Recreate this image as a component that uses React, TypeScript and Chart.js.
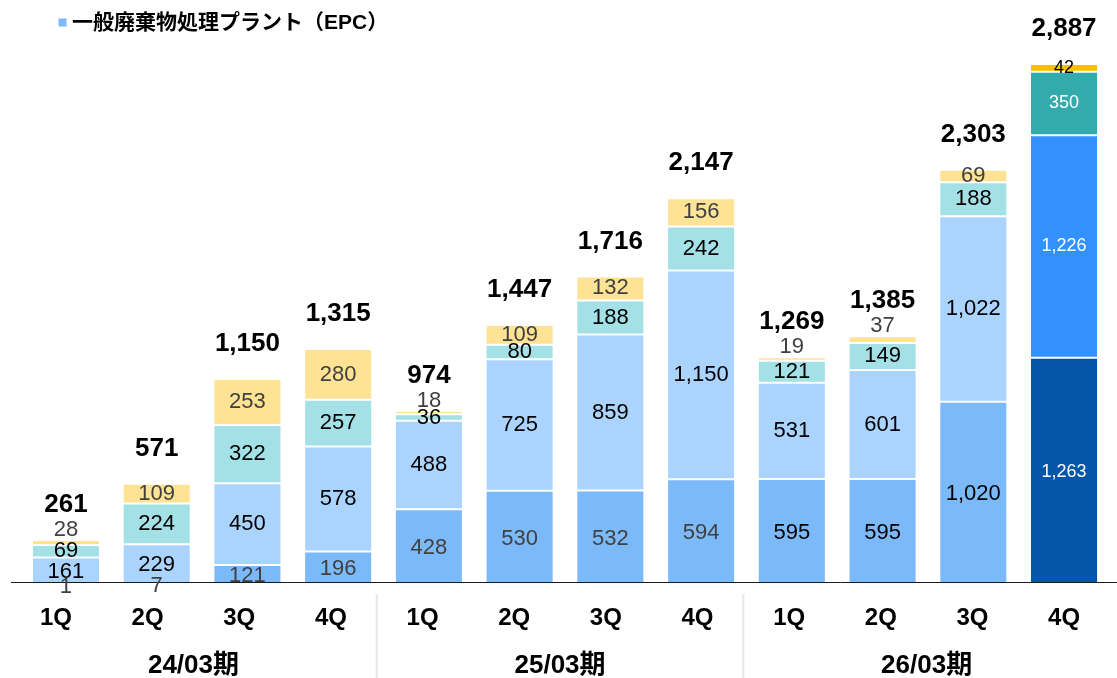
import { useEffect, useRef } from 'react';
import { Chart, registerables } from 'chart.js';

Chart.register(...registerables);

const quarters = ['1Q', '2Q', '3Q', '4Q', '1Q', '2Q', '3Q', '4Q', '1Q', '2Q', '3Q', '4Q'];
const periods = ['24/03期', '25/03期', '26/03期'];
const legendLabel = '一般廃棄物処理プラント（EPC）';

const seg1 = [1, 7, 121, 196, 428, 530, 532, 594, 595, 595, 1020, 1263];
const seg2 = [161, 229, 450, 578, 488, 725, 859, 1150, 531, 601, 1022, 1226];
const seg3 = [69, 224, 322, 257, 36, 80, 188, 242, 121, 149, 188, 350];
const seg4 = [28, 109, 253, 280, 18, 109, 132, 156, 19, 37, 69, 42];
const totals = [261, 571, 1150, 1315, 974, 1447, 1716, 2147, 1269, 1385, 2303, 2887];

const baseColors = ['#7cb9f9', '#aad4fd', '#a3e1e6', '#fee394'];
const lastColors = ['#0555a8', '#3391fe', '#33aaab', '#fcbf00'];

const FONT = "'Liberation Sans', Arial, 'Noto Sans CJK JP', sans-serif";

const Q_MIN = -0.386;
const Q_MAX = 11.494;

const fmt = (v: number) => v.toLocaleString('en-US');

const labelColor = (di: number, i: number, n: number) => {
  if (i === n - 1) return di === 3 ? '#000000' : '#ffffff';
  if (di === 0) return i >= 8 ? '#000000' : '#404040';
  if (di === 3) return '#404040';
  return '#000000';
};

const decorPlugin = {
  id: 'decor',
  afterDatasetsDraw(chart: any) {
    const ctx = chart.ctx;
    const area = chart.chartArea;
    const n = quarters.length;
    ctx.save();
    // baseline
    ctx.strokeStyle = '#1a1a1a';
    ctx.lineWidth = 1;
    ctx.beginPath();
    ctx.moveTo(11, Math.round(area.bottom) + 0.5);
    ctx.lineTo(chart.width, Math.round(area.bottom) + 0.5);
    ctx.stroke();

    ctx.textAlign = 'center';
    ctx.textBaseline = 'middle';
    chart.data.datasets.forEach((ds: any, di: number) => {
      const meta = chart.getDatasetMeta(di);
      meta.data.forEach((bar: any, i: number) => {
        const v = ds.data[i];
        const p = bar.getProps(['x', 'y', 'base'], true);
        const h = p.base - p.y;
        const last = i === n - 1;
        ctx.font = `${last ? 18 : 22}px ${FONT}`;
        ctx.fillStyle = labelColor(di, i, n);
        let ly = (p.y + p.base) / 2;
        if (di === 3 && h < 10 && !last) ly = p.y - 10;
        ctx.fillText(fmt(v), p.x, ly);
      });
    });

    const topMeta = chart.getDatasetMeta(chart.data.datasets.length - 1);
    ctx.font = `bold 26px ${FONT}`;
    ctx.fillStyle = '#000000';
    topMeta.data.forEach((bar: any, i: number) => {
      ctx.fillText(fmt(totals[i]), bar.x, bar.y - 35);
    });
    ctx.restore();
  },
  afterDraw(chart: any) {
    const ctx = chart.ctx;
    const qs = chart.scales.q;
    ctx.save();
    // separators
    ctx.strokeStyle = '#e4e7ec';
    ctx.lineWidth = 2;
    for (let g = 1; g < periods.length; g++) {
      const sx = qs.getPixelForValue(g * 4 - 0.5);
      ctx.beginPath();
      ctx.moveTo(sx, 594);
      ctx.lineTo(sx, chart.height);
      ctx.stroke();
    }
    // group labels
    ctx.font = `bold 26px ${FONT}`;
    ctx.fillStyle = '#000000';
    ctx.textAlign = 'center';
    ctx.textBaseline = 'middle';
    periods.forEach((p, g) => {
      ctx.fillText(p, qs.getPixelForValue(g * 4 + 1.5), 666);
    });
    // legend
    ctx.fillStyle = baseColors[0];
    ctx.fillRect(58.5, 18.5, 8, 8);
    ctx.fillStyle = '#000000';
    ctx.font = `bold 21px ${FONT}`;
    ctx.textAlign = 'left';
    ctx.fillText(legendLabel, 72, 23);
    ctx.restore();
  },
};

export default function App() {
  const ref = useRef<HTMLCanvasElement>(null);
  useEffect(() => {
    if (!ref.current) return;
    const n = quarters.length;
    const series = [seg1, seg2, seg3, seg4];
    const chart = new Chart(ref.current, {
      type: 'bar',
      data: {
        labels: quarters,
        datasets: series.map((data, di) => ({
          label: di === 0 ? legendLabel : `s${di + 1}`,
          data,
          backgroundColor: data.map((_, i) => (i === n - 1 ? lastColors[di] : baseColors[di])),
          borderColor: '#ffffff',
          borderWidth: 1,
          borderSkipped: false,
          categoryPercentage: 0.75,
          barPercentage: 1,
          clip: 0,
        })),
      },
      options: {
        responsive: false,
        animation: false,
        devicePixelRatio: 1,
        layout: { padding: { left: 20.6, right: 7.6, top: 42.5, bottom: 0 } },
        plugins: {
          legend: { display: false },
          tooltip: { enabled: false },
        },
        scales: {
          x: {
            stacked: true,
            display: false,
          },
          q: {
            type: 'linear',
            position: 'bottom',
            offset: false,
            bounds: 'data',
            min: Q_MIN,
            max: Q_MAX,
            grid: { display: false, offset: false },
            border: { display: false },
            afterBuildTicks: (scale: any) => {
              scale.ticks = quarters.map((_, i) => ({ value: i }));
              scale.min = Q_MIN;
              scale.max = Q_MAX;
            },
            ticks: {
              autoSkip: false,
              padding: 14,
              color: '#000000',
              font: { family: FONT, size: 24, weight: 'bold' },
              maxRotation: 0,
              callback: (v: any) => quarters[Math.round(Number(v))],
            },
            afterFit: (scale: any) => {
              scale.height = 96;
            },
          },
          y: {
            stacked: true,
            display: false,
            min: 27.5,
            max: 3000,
          },
        },
      } as any,
      plugins: [decorPlugin],
    });
    return () => chart.destroy();
  }, []);
  return (
    <div style={{ position: 'fixed', left: 0, top: 0, width: 1117, height: 678, background: '#ffffff' }}>
      <canvas ref={ref} width={1117} height={678} />
    </div>
  );
}
